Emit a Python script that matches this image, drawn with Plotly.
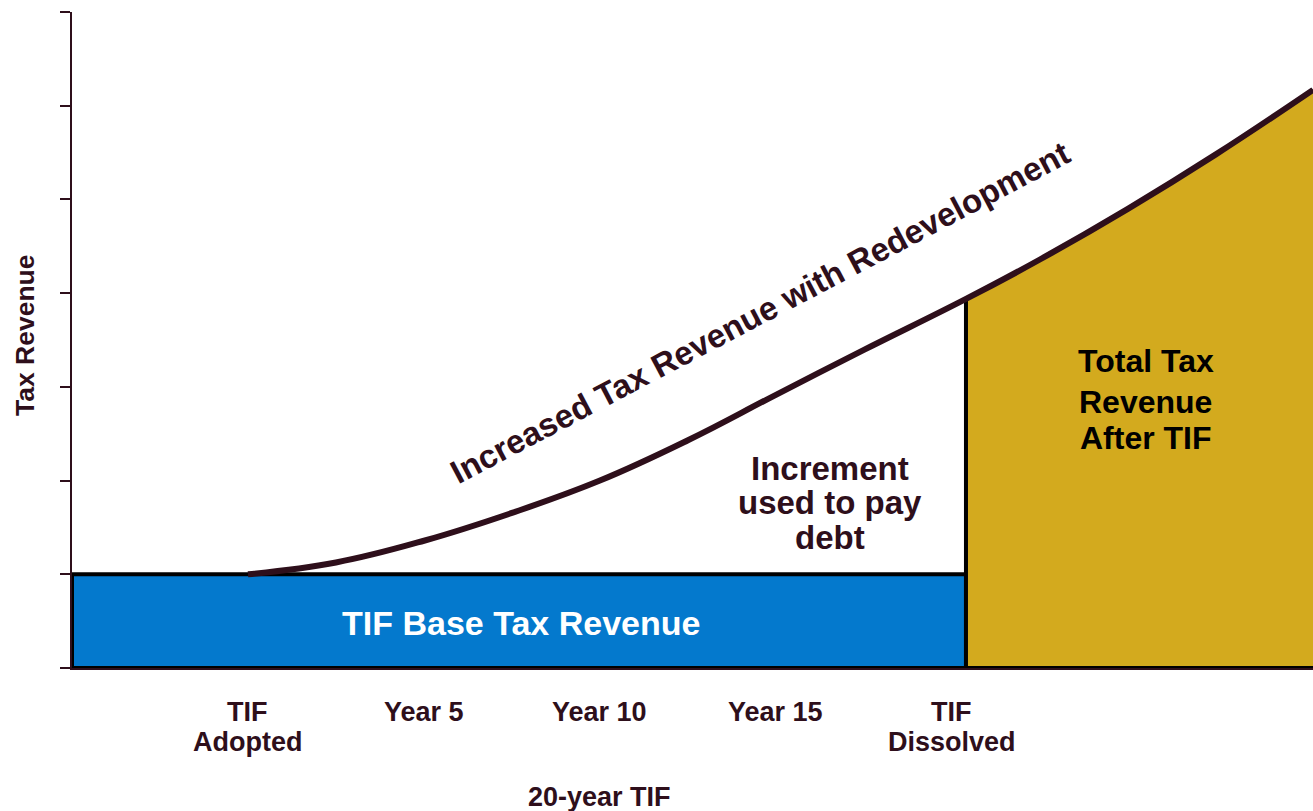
import plotly.graph_objects as go

# ---- data ----
curve_years = [0, 2.5, 5, 7.5, 10, 12.5, 15, 17.5, 20.4, 22.5, 25, 27.5, 30.26]
curve_values = [1.0, 1.126, 1.358, 1.655, 2.0, 2.43, 2.915, 3.394, 3.938, 4.359, 4.90, 5.481, 6.169]
base_value = 1.0
axis_start_year = -5
dissolve_year = 20.4
axis_end_year = 30.26

tick_years = [0, 5, 10, 15, 20]
tick_line1 = ["TIF", "Year 5", "Year 10", "Year 15", "TIF"]
tick_line2 = ["Adopted", "", "", "", "Dissolved"]
y_ticks = [0, 1, 2, 3, 4, 5, 6, 7]

MAROON = "#2E0F1B"
BLUE = "#0479CD"
GOLD = "#D3AA1E"
FONT = "Liberation Sans, Arial, sans-serif"

fig = go.Figure()

# base revenue rectangle
fig.add_trace(go.Scatter(
    x=[axis_start_year, dissolve_year, dissolve_year, axis_start_year, axis_start_year],
    y=[0, 0, base_value, base_value, 0],
    mode="lines", fill="toself", fillcolor=BLUE,
    line=dict(color="black", width=4), hoverinfo="skip", showlegend=False))

# total revenue after TIF area (under the curve, after dissolution)
after_x = [x for x in curve_years if x >= dissolve_year]
after_y = [v for x, v in zip(curve_years, curve_values) if x >= dissolve_year]
fig.add_trace(go.Scatter(
    x=after_x, y=after_y, mode="lines", fill="tozeroy", fillcolor=GOLD,
    line=dict(color="black", width=4, shape="spline", smoothing=1.2),
    hoverinfo="skip", showlegend=False))
# its left and bottom outline
fig.add_trace(go.Scatter(
    x=[dissolve_year, dissolve_year, axis_end_year], y=[after_y[0], 0, 0],
    mode="lines", line=dict(color="black", width=4),
    hoverinfo="skip", showlegend=False))

# revenue curve
fig.add_trace(go.Scatter(
    x=curve_years, y=curve_values, mode="lines",
    line=dict(color=MAROON, width=6, shape="spline", smoothing=1.2),
    hoverinfo="skip", showlegend=False))

annotations = []
def ann(text, x, y, size, color, **kw):
    d = dict(text=text, x=x, y=y, showarrow=False, xanchor="center", yanchor="middle",
             font=dict(family=FONT, size=size, color=color, weight="bold"))
    d.update(kw)
    annotations.append(d)

ann("Increased Tax Revenue with Redevelopment", 14.55, 3.79, 33, MAROON, textangle=-27.8)
for txt, yv in zip(["Increment", "used to pay", "debt"], [2.129, 1.761, 1.393]):
    ann(txt, 16.53, yv, 33, MAROON)
for txt, yv in zip(["Total Tax", "Revenue", "After TIF"], [3.276, 2.839, 2.455]):
    ann(txt, 25.51, yv, 32, "black")
ann("TIF Base Tax Revenue", 7.76, 0.48, 34, "white")

for xv, l1, l2 in zip(tick_years, tick_line1, tick_line2):
    ann(l1, xv, 0, 27, MAROON, yref="paper", yshift=-44)
    if l2:
        ann(l2, xv, 0, 27, MAROON, yref="paper", yshift=-74)
ann("20-year TIF", 10, 0, 27, MAROON, yref="paper", yshift=-129)
ann("Tax Revenue", -0.0379, 0.5076, 26.5, MAROON, xref="paper", yref="paper", textangle=-90)

fig.update_layout(
    width=1313, height=811,
    margin=dict(l=72, r=0, t=12, b=143),
    plot_bgcolor="white", paper_bgcolor="white",
    annotations=annotations,
    shapes=[dict(type="line", xref="x", yref="y", xsizemode="scaled",
                 ysizemode="pixel", yanchor=0, x0=axis_start_year, x1=axis_start_year,
                 y0=0, y1=-12, line=dict(color=MAROON, width=2))],
    xaxis=dict(range=[axis_start_year, axis_end_year], showgrid=False, zeroline=False,
               showline=True, linecolor=MAROON, linewidth=2, ticks="",
               showticklabels=False, fixedrange=True),
    yaxis=dict(range=[0, 7], showgrid=False, zeroline=False, showline=True,
               linecolor=MAROON, linewidth=2, ticks="outside", ticklen=10,
               tickwidth=2, tickcolor=MAROON, tickvals=y_ticks,
               showticklabels=False, fixedrange=True),
)

fig.write_html("out.html", config={"displayModeBar": False})
